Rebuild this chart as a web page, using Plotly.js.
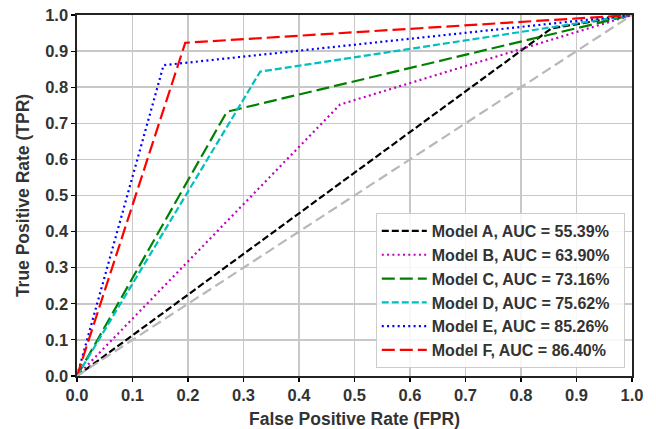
<!DOCTYPE html>
<html>
<head>
<meta charset="utf-8">
<script src="https://cdn.plot.ly/plotly-3.0.1.min.js"></script>
<style>html,body{margin:0;padding:0;background:#fff;}#chart{width:656px;height:429px;}</style>
</head>
<body>
<div id="chart"></div>
<script>
// ROC operating points (single threshold per model)
var modelNames = ["Model A", "Model B", "Model C", "Model D", "Model E", "Model F"];
var aucValues = [55.39, 63.90, 73.16, 75.62, 85.26, 86.40];
var fprPoints = [0.855, 0.474, 0.270, 0.330, 0.156, 0.195];
var tprPoints = [0.963, 0.752, 0.732, 0.843, 0.861, 0.923];
var chanceX = [0, 1];
var chanceY = [0, 1];
var tickValues = [0, 0.1, 0.2, 0.3, 0.4, 0.5, 0.6, 0.7, 0.8, 0.9, 1.0];

var colors = ["#000000", "#c000c0", "#008000", "#00bfbf", "#0000ff", "#ff0000"];
var dashes = ["7px,3px", "2px,3.3px", "13px,5px", "7px,3px", "2px,3.3px", "13px,5px"];

var traces = [];
for (var i = 0; i < modelNames.length; i++) {
  traces.push({
    type: "scatter", mode: "lines",
    x: [0, fprPoints[i], 1], y: [0, tprPoints[i], 1],
    name: modelNames[i] + ", AUC = " + aucValues[i].toFixed(2) + "%\u00a0\u00a0",
    line: {color: colors[i], width: 2.2, dash: dashes[i]},
    hoverinfo: "skip"
  });
}
traces.push({
  type: "scatter", mode: "lines", x: chanceX, y: chanceY,
  showlegend: false, line: {color: "#b8b8b8", width: 2.2, dash: "10px,5px"}, hoverinfo: "skip"
});

var fam = "Liberation Sans, Arial, sans-serif";
var tickFont = {family: fam, size: 16.5, color: "#333333", weight: 700};
var axisCommon = {
  range: [0, 1], tickvals: tickValues, tickformat: ".1f",
  ticks: "outside", ticklen: 4, tickwidth: 1.2, tickcolor: "#000",
  showline: true, linecolor: "#222", linewidth: 1.6, mirror: true,
  showgrid: true, gridcolor: "#c8c8c8", gridwidth: 1.5, zeroline: false,
  tickfont: tickFont, fixedrange: true
};

var layout = {
  width: 656, height: 429,
  margin: {l: 77, r: 24, t: 15, b: 53},
  paper_bgcolor: "#fff", plot_bgcolor: "#fff",
  xaxis: Object.assign({}, axisCommon, {
    title: {text: "False Positive Rate (FPR)", standoff: 9,
      font: {family: fam, size: 17.5, color: "#333333", weight: 700}}
  }),
  yaxis: Object.assign({}, axisCommon, {
    title: {text: "True Positive Rate (TPR)", standoff: 11,
      font: {family: fam, size: 17.5, color: "#333333", weight: 700}}
  }),
  legend: {
    x: 0.987, xanchor: "right", y: 0.022, yanchor: "bottom",
    bgcolor: "rgba(255,255,255,0.85)", bordercolor: "#cccccc", borderwidth: 1,
    font: {family: fam, size: 16, color: "#333333", weight: 700},
    tracegroupgap: 0, itemwidth: 45
  },
  showlegend: true
};

Plotly.newPlot("chart", traces, layout, {staticPlot: true, displayModeBar: false});
</script>
</body>
</html>
